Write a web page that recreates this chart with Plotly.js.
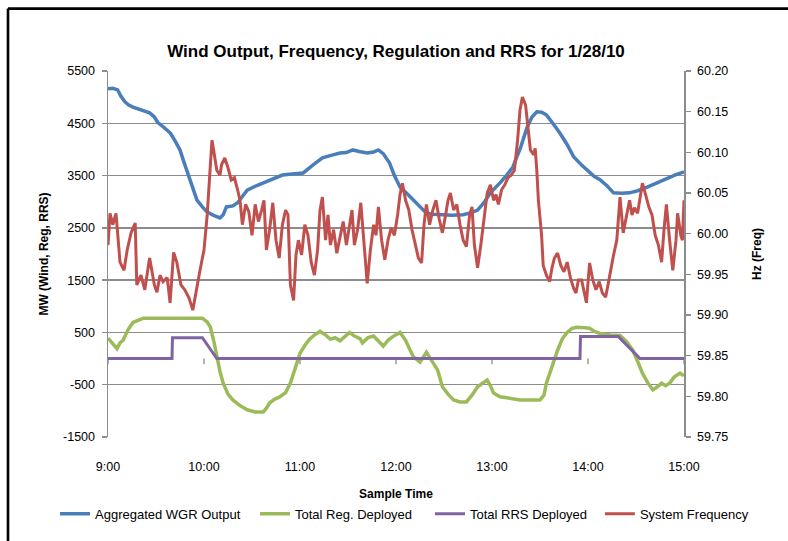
<!DOCTYPE html>
<html>
<head>
<meta charset="utf-8">
<script src="https://cdn.plot.ly/plotly-3.0.1.min.js"></script>
<style>html,body{margin:0;padding:0;background:#fff;}#chart{width:788px;height:541px;}</style>
</head>
<body>
<div id="chart"></div>
<script>
// ---- data (minutes after 9:00) ----
var timeTickVals = [0, 60, 120, 180, 240, 300, 360];
var timeTickText = ["9:00", "10:00", "11:00", "12:00", "13:00", "14:00", "15:00"];
var mwTickVals = [-1500, -500, 500, 1500, 2500, 3500, 4500, 5500];
var mwTickText = ["-1500", "-500", "500", "1500", "2500", "3500", "4500", "5500"];

var windMin = [0, 3, 6, 8, 10.6, 13, 15.6, 20, 26, 29, 31, 35, 39, 42, 45, 47, 49, 52, 55.6, 59, 62, 66, 70, 72, 74, 78, 81, 84, 87, 93, 99, 104, 109, 115, 122, 128, 134, 140, 145, 149, 153, 157, 162, 166, 169, 172, 176, 179, 182.5, 187, 191, 195, 199, 203, 207.5, 215, 222, 227, 231, 235, 239, 242, 245, 249, 253, 258, 262, 265, 268, 271, 274, 278, 282.5, 287, 291, 296, 301, 304, 307.5, 312, 316, 321, 326, 331, 337, 343, 349, 355, 360];
var windMW = [5160, 5170, 5140, 5020, 4910, 4850, 4810, 4770, 4700, 4620, 4520, 4420, 4310, 4160, 3990, 3800, 3610, 3320, 3030, 2900, 2800, 2740, 2690, 2750, 2900, 2920, 2980, 3100, 3220, 3310, 3380, 3440, 3510, 3530, 3550, 3700, 3840, 3890, 3930, 3940, 3990, 3960, 3930, 3950, 3990, 3920, 3740, 3500, 3280, 3150, 3030, 2900, 2780, 2760, 2750, 2740, 2750, 2790, 2840, 2980, 3170, 3260, 3360, 3500, 3660, 4050, 4430, 4620, 4720, 4710, 4660, 4500, 4310, 4090, 3860, 3700, 3550, 3480, 3420, 3300, 3170, 3160, 3170, 3210, 3280, 3360, 3450, 3520, 3570];

var regMin = [0, 1.25, 4, 5.6, 7.5, 9.4, 12.5, 15.6, 22, 59, 62, 64, 66, 68, 70, 72, 75, 78, 82.5, 87, 92, 97, 99, 101, 104, 107.5, 111, 114, 117, 120, 123, 126, 129, 132.5, 136, 139, 142, 145, 148, 151, 154, 157.5, 159, 162.5, 166, 169, 172, 175, 178, 182.5, 186, 189, 191, 195, 197.5, 199, 202.5, 206, 209, 212.5, 216, 220, 224, 227.5, 231, 234, 237, 239, 241, 245, 249, 257.5, 270, 272.5, 274, 277.5, 281, 284, 287, 290, 293, 298, 301, 304, 307.5, 314, 320, 324, 328, 331, 334, 337.5, 340.5, 343, 346, 348.5, 351, 354, 357.5, 360];
var regMW = [390, 350, 250, 190, 300, 350, 550, 690, 770, 770, 700, 600, 350, 30, -250, -470, -680, -790, -900, -980, -1020, -1020, -950, -850, -780, -730, -650, -470, -200, 100, 250, 370, 450, 520, 450, 370, 400, 340, 420, 500, 430, 380, 300, 400, 430, 330, 240, 350, 420, 500, 350, 150, 30, -70, 60, 120, -50, -220, -540, -680, -790, -830, -830, -700, -540, -470, -410, -520, -660, -730, -750, -790, -790, -700, -470, -150, 160, 380, 500, 580, 600, 590, 580, 520, 480, 450, 440, 330, 160, -50, -280, -470, -600, -550, -470, -520, -470, -350, -280, -330];

var rrsMin = [0, 40, 40.3, 59, 68, 295, 295.3, 319, 332.5, 360];
var rrsMW = [0, 0, 400, 400, 0, 0, 420, 420, 0, 0];

var freqMin = [0, 1.25, 3, 5, 7.5, 10, 12, 14.4, 17, 18, 20.6, 23, 26, 29, 30.6, 32.5, 34.4, 37, 38.8, 41, 43, 45.6, 48, 50.6, 53, 55.6, 57.5, 60, 62, 64, 65, 66, 68, 70, 71, 73, 75, 77, 79, 81, 82.5, 84, 86, 88, 90, 92, 94, 96, 97.5, 99, 101, 103, 105, 107, 109, 111, 112.5, 114, 116, 117.5, 119, 121, 123, 125, 127, 129, 131, 132.5, 134, 136, 137.5, 139, 141, 143, 145, 147, 149, 151, 152.5, 154, 156, 158, 160, 162, 164, 166, 167.5, 169, 171, 173, 175, 177, 179, 181, 182.5, 184, 186, 188, 190, 192, 194, 196, 197.5, 199, 201, 203, 205, 207, 209, 211, 212.5, 214, 216, 218, 220, 222, 224, 226, 227.5, 229, 231, 233, 235, 237, 239, 241, 242.5, 244, 246, 248, 250, 252, 254, 256, 257.5, 259, 261, 262.5, 264, 266, 267, 268, 269, 271, 272, 274, 276, 277.5, 279, 281, 283, 285, 287, 289, 291, 292.5, 294, 296, 298, 299, 301, 303, 305, 307, 309, 311, 312.5, 314, 316, 318, 320, 322, 324, 326, 327.5, 329, 331, 333, 334, 336, 338, 340, 342, 344, 346, 347.5, 349, 351, 353, 355, 356, 358, 359, 360];
var freqHz = [59.986, 60.025, 60.011, 60.025, 59.965, 59.955, 59.980, 60.001, 60.013, 59.937, 59.949, 59.931, 59.970, 59.937, 59.928, 59.949, 59.941, 59.946, 59.915, 59.977, 59.965, 59.937, 59.931, 59.921, 59.906, 59.937, 59.955, 59.980, 60.023, 60.085, 60.115, 60.103, 60.078, 60.072, 60.085, 60.093, 60.081, 60.066, 60.069, 60.054, 60.041, 60.011, 60.036, 60.027, 59.998, 60.036, 60.015, 60.029, 60.041, 59.980, 60.005, 60.038, 59.992, 59.970, 60.011, 60.029, 60.023, 59.937, 59.918, 59.974, 59.992, 59.974, 60.011, 59.998, 59.965, 59.949, 59.980, 60.029, 60.045, 59.992, 60.023, 59.986, 60.005, 59.976, 59.998, 60.015, 59.986, 60.011, 60.029, 59.986, 60.005, 60.038, 59.986, 59.939, 59.980, 60.011, 59.998, 60.033, 59.992, 59.968, 59.992, 60.007, 59.998, 60.023, 60.048, 60.062, 60.041, 60.029, 60.005, 59.986, 59.970, 59.964, 60.011, 60.036, 60.011, 60.029, 60.041, 60.018, 60.001, 60.023, 60.041, 60.050, 60.029, 60.036, 60.011, 59.992, 59.984, 60.023, 60.033, 59.986, 59.958, 59.986, 60.017, 60.050, 60.060, 60.041, 60.048, 60.036, 60.054, 60.060, 60.069, 60.072, 60.078, 60.115, 60.152, 60.168, 60.158, 60.130, 60.103, 60.097, 60.105, 60.078, 60.041, 59.998, 59.961, 59.949, 59.941, 59.958, 59.970, 59.976, 59.961, 59.953, 59.965, 59.946, 59.933, 59.927, 59.943, 59.943, 59.925, 59.915, 59.964, 59.943, 59.931, 59.941, 59.927, 59.922, 59.937, 59.955, 59.974, 59.992, 60.045, 60.001, 60.023, 60.041, 60.023, 60.032, 60.025, 60.048, 60.062, 60.048, 60.033, 60.023, 59.998, 59.986, 59.965, 60.005, 60.036, 59.992, 59.955, 59.992, 60.025, 59.998, 59.992, 60.041];

// category-axis crossing (MW = 0) used for the small hour tick marks
var axisCrossMW = [0, 0, 0, 0, 0, 0, 0];
var axisTickLenMW = [110, 110, 110, 110, 110, 110, 110];
var axisTickZero = [0, 0, 0, 0, 0, 0, 0];

var FONT = "Liberation Sans, Arial, sans-serif";
var GRID = "#8c8c8c";

var traces = [
  {x: timeTickVals, y: axisCrossMW, type: "scatter", mode: "markers", showlegend: false, hoverinfo: "skip",
   marker: {size: 0.1, color: "rgba(0,0,0,0)"},
   error_y: {type: "data", symmetric: false, array: axisTickZero, arrayminus: axisTickLenMW,
             width: 0, color: GRID, thickness: 1.3}},
  {x: windMin, y: windMW, name: "Aggregated WGR Output", type: "scatter", mode: "lines",
   legendwidth: 155, line: {color: "#4A7EBB", width: 3.5}},
  {x: regMin, y: regMW, name: "Total Reg. Deployed", type: "scatter", mode: "lines",
   legendwidth: 130, line: {color: "#9BBB59", width: 3.5}},
  {x: rrsMin, y: rrsMW, name: "Total RRS Deployed", type: "scatter", mode: "lines",
   line: {color: "#8064A2", width: 3}},
  {x: freqMin, y: freqHz, name: "System Frequency", type: "scatter", mode: "lines", yaxis: "y2",
   legend: "legend2", line: {color: "#C0504D", width: 3}}
];

var layout = {
  width: 788, height: 541,
  paper_bgcolor: "#ffffff", plot_bgcolor: "#ffffff",
  margin: {l: 108, r: 104, t: 71, b: 104},
  font: {family: FONT, color: "#000", size: 12},
  title: {text: "Wind Output, Frequency, Regulation and RRS for 1/28/10",
          font: {family: FONT, size: 17, weight: "bold", color: "#000"},
          x: 0.5, xanchor: "center", y: 0.905, yanchor: "middle", xref: "paper"},
  xaxis: {range: [0, 360], tickvals: timeTickVals, ticktext: timeTickText,
          showgrid: false, zeroline: false, showline: false, ticks: "",
          ticklabelstandoff: 20, tickfont: {size: 12.5},
          title: {text: "Sample Time", font: {size: 12, weight: "bold"}, standoff: 17}},
  yaxis: {range: [-1500, 5500], tickvals: mwTickVals, ticktext: mwTickText,
          showgrid: true, gridcolor: GRID, gridwidth: 1.3, zeroline: false,
          showline: true, linecolor: GRID, linewidth: 1.5,
          ticks: "outside", ticklen: 5, tickcolor: GRID, tickwidth: 1.3,
          ticklabelstandoff: 4, tickfont: {size: 12.5},
          title: {text: "MW (Wind, Reg, RRS)", font: {size: 12, weight: "bold"}, standoff: 12}},
  yaxis2: {range: [59.75, 60.2], dtick: 0.05, tick0: 59.75, tickformat: ".2f",
           overlaying: "y", side: "right", showgrid: false, zeroline: false,
           showline: true, linecolor: GRID, linewidth: 1.5,
           ticks: "outside", ticklen: 5, tickcolor: GRID, tickwidth: 1.3,
           ticklabelstandoff: 4, tickfont: {size: 12.5},
           title: {text: "Hz (Freq)", font: {size: 12, weight: "bold"}, standoff: 25}},
  legend: {orientation: "h", x: -0.092, xanchor: "left", y: -0.21, yanchor: "middle",
           font: {size: 13}, bgcolor: "rgba(0,0,0,0)", traceorder: "normal", itemwidth: 30},
  legend2: {orientation: "h", x: 0.854, xanchor: "left", y: -0.21, yanchor: "middle",
            font: {size: 13}, bgcolor: "rgba(0,0,0,0)", itemwidth: 30},
  shapes: [
    {type: "line", xref: "paper", yref: "paper", x0: -0.1736, x1: 1.4, y0: 1.1705, y1: 1.1705,
     line: {color: "#000", width: 2.6}},
    {type: "line", xref: "paper", yref: "paper", x0: -0.1736, x1: -0.1736, y0: 1.1705, y1: -0.5,
     line: {color: "#000", width: 2.6}}
  ],
  showlegend: true
};

Plotly.newPlot("chart", traces, layout, {staticPlot: true, displayModeBar: false});
</script>
</body>
</html>
